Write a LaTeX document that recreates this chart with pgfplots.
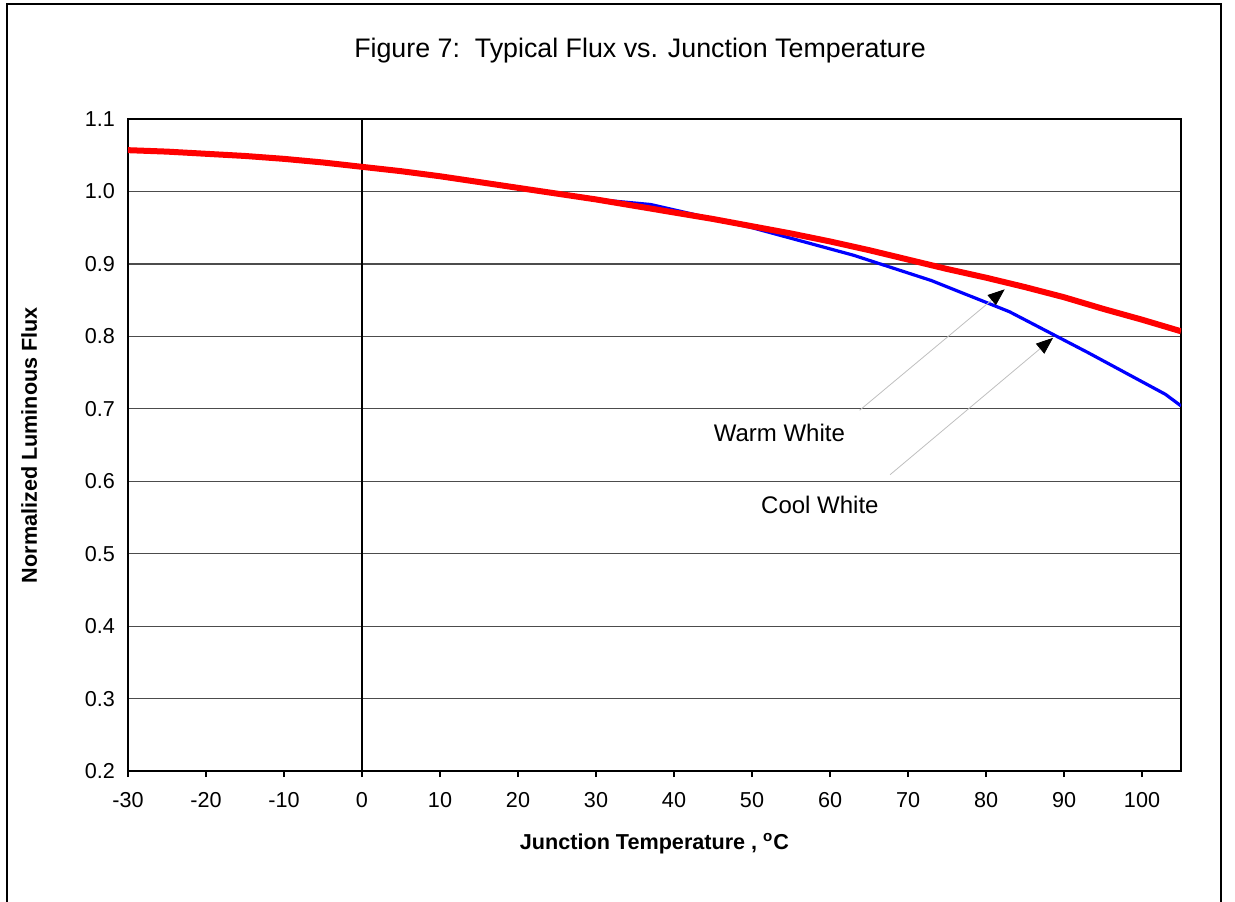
\documentclass[border=0pt]{standalone}
\usepackage{pgfplots}
\pgfplotsset{compat=1.18}
\usepackage{fontspec}
\setmainfont{Liberation Sans}
\usetikzlibrary{arrows.meta}

\begin{document}
\begin{tikzpicture}
\useasboundingbox (-64pt,-65pt) rectangle (553.5pt,385.5pt);
% outer chart frame (bottom edge lies below the page)
\draw[black, line width=0.7pt] (-60.5pt,-80pt) -- (-60.5pt,383.5pt) -- (546.5pt,383.5pt) -- (546.5pt,-80pt);
\node[font=\fontsize{13.4}{15}\selectfont] at (256pt,360pt) {Figure 7:\ \ Typical Flux vs. Junction Temperature};

\begin{axis}[
    scale only axis,
    width=526.5pt, height=326pt,
    xmin=-30, xmax=105,
    ymin=0.2, ymax=1.1,
    xtick={-30,-20,-10,0,10,20,30,40,50,60,70,80,90,100},
    ytick={0.2,0.3,0.4,0.5,0.6,0.7,0.8,0.9,1.0,1.1},
    yticklabel style={/pgf/number format/.cd, fixed, fixed zerofill, precision=1},
    /pgf/number format/assume math mode=true,
    ticklabel style={font=\fontsize{10.8}{12}\selectfont},
    tick align=outside,
    xtick pos=bottom,
    major tick length=3pt,
    xtick style={black, line width=0.6pt},
    ytick style={draw=none},
    xticklabel style={yshift=-4pt},
    ymajorgrids=true,
    grid style={black!70, line width=0.6pt},
    axis line style={black, line width=0.7pt},
    xlabel={Junction Temperature , \textsuperscript{o}C},
    ylabel={Normalized Luminous Flux},
    label style={font=\bfseries\fontsize{10.8}{12}\selectfont},
    xlabel style={yshift=-6pt},
    ylabel style={yshift=17pt},
]
% y axis crosses at 0
\draw[black, line width=0.6pt] (axis cs:0,0.2) -- (axis cs:0,1.1);

% Cool White
\addplot[blue, line width=1.6pt] coordinates {
(-30,1.057)(-25,1.055)(-20,1.052)(-15,1.049)(-10,1.045)(-5,1.040)(0,1.034)
(5,1.028)(10,1.021)(15,1.013)(20,1.005)(25,0.997)(30,0.989)(37,0.982)
(50,0.950)(63,0.912)(73,0.877)(83,0.834)(93,0.778)(103,0.720)(105,0.704)
};

% Warm White
\addplot[red, line width=3pt] coordinates {
(-30,1.057)(-25,1.055)(-20,1.052)(-15,1.049)(-10,1.045)(-5,1.040)(0,1.034)
(5,1.028)(10,1.021)(15,1.013)(20,1.005)(25,0.997)(30,0.989)(35,0.980)
(40,0.971)(45,0.962)(50,0.952)(55,0.942)(60,0.931)(65,0.919)(70,0.906)
(75,0.893)(80,0.881)(85,0.868)(90,0.854)(95,0.838)(100,0.823)(105,0.807)
};

\draw[black!25, line width=0.4pt, -{Triangle[black, length=8.5pt, width=6.5pt]}]
    (axis cs:63.8,0.698) -- (axis cs:82.4,0.865);
\draw[black!25, line width=0.4pt, -{Triangle[black, length=8.5pt, width=6.5pt]}]
    (axis cs:67.7,0.609) -- (axis cs:88.6,0.798);
\node[font=\fontsize{12}{14}\selectfont] at (axis cs:53.5,0.666) {Warm White};
\node[font=\fontsize{12}{14}\selectfont] at (axis cs:58.7,0.567) {Cool White};
\end{axis}
\end{tikzpicture}
\end{document}
